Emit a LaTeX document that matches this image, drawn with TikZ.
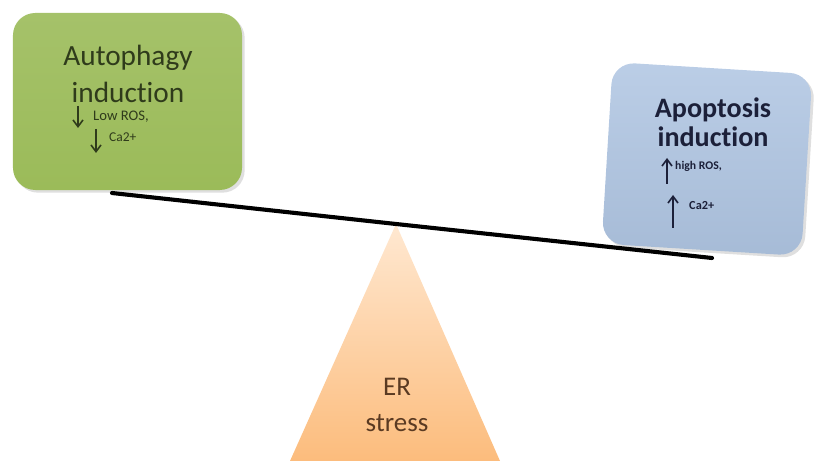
\documentclass[tikz,border=0pt]{standalone}
\usepackage{fontspec}
\setmainfont{Carlito}[Ligatures=NoCommon]
\usepackage{xcolor}
\usetikzlibrary{positioning, arrows.meta, shadows}

\definecolor{autogreen}{HTML}{9BBB59}
\definecolor{apoblue}{HTML}{AFC5E2}
\definecolor{autotext}{HTML}{2F3B1B}
\definecolor{apotext}{HTML}{1C2039}
\definecolor{ertext}{HTML}{5A3A22}

\begin{document}
\begin{tikzpicture}[
    x=0.03cm, y=-0.03cm,
    box/.style = {
        rectangle, rounded corners=19pt, draw=none,
        drop shadow={opacity=0.25, shadow xshift=0.08cm, shadow yshift=-0.08cm}
    },
    title/.style = {
        align=center, inner sep=0pt
    },
    note/.style = {
        anchor=west, inner sep=0pt
    },
    updown/.style = {
        -{Straight Barb[length=2mm, width=3mm]}, line width=1.4pt
    },
    beam/.style = {
        line width=3.5pt, line cap=round, color=black
    }
]
\useasboundingbox (0,0) rectangle (814,461);

% Fulcrum ── ER stress
\coordinate (apex)  at (396,224);
\coordinate (baseL) at (290,461);
\coordinate (baseR) at (500,461);
\shade[top color=orange!18!white, bottom color=orange!50!white!95!brown]
    (apex) -- (baseR) -- (baseL) -- cycle;
\node[title, text=ertext, font=\fontsize{23}{30}\selectfont] (er) at (397,405) {ER\\stress};

% Left pan ── autophagy
\node[box, minimum width=6.87cm, minimum height=5.31cm,
      top color=autogreen!90!white, bottom color=autogreen] (auto) at (127.5,101.5) {};
\node[title, text=autotext, font=\fontsize{25}{31.5}\selectfont] (autot) at (128,74) {Autophagy\\induction};
\node[note, text=autotext, font=\fontsize{12.5}{14}\selectfont] (lowros) at (93,117) {Low ROS,};
\node[note, text=autotext, font=\fontsize{11.5}{14}\selectfont] (lowca)  at (109,137) {Ca2+};
\coordinate (d1a) at (78,106);
\coordinate (d1b) at (78,128);
\coordinate (d2a) at (96,129);
\coordinate (d2b) at (96,153);
\draw[updown, autotext] (d1a) -- (d1b);
\draw[updown, autotext] (d2a) -- (d2b);

% Right pan ── apoptosis
\node[box, rotate=-3.5, minimum width=6.0cm, minimum height=5.46cm,
      top color=apoblue!85!white, bottom color=apoblue!95!black] (apo) at (707,159) {};
\node[title, text=apotext, font=\bfseries\fontsize{24}{25}\selectfont] (apot) at (713,122) {Apoptosis\\induction};
\node[note, text=apotext, font=\bfseries\fontsize{10}{12}\selectfont] (hiros) at (675,166) {high ROS,};
\node[note, text=apotext, font=\bfseries\fontsize{10.5}{12}\selectfont] (hica)  at (689,206) {Ca2+};
\coordinate (u1a) at (667,184);
\coordinate (u1b) at (667,158);
\coordinate (u2a) at (673,228);
\coordinate (u2b) at (673,195);
\draw[updown, apotext] (u1a) -- (u1b);
\draw[updown, apotext] (u2a) -- (u2b);

% Beam resting on the apex
\coordinate (beamL) at (112,193);
\coordinate (beamR) at (712,258);
\draw[beam] (beamL) -- (apex) -- (beamR);

\end{tikzpicture}
\end{document}
